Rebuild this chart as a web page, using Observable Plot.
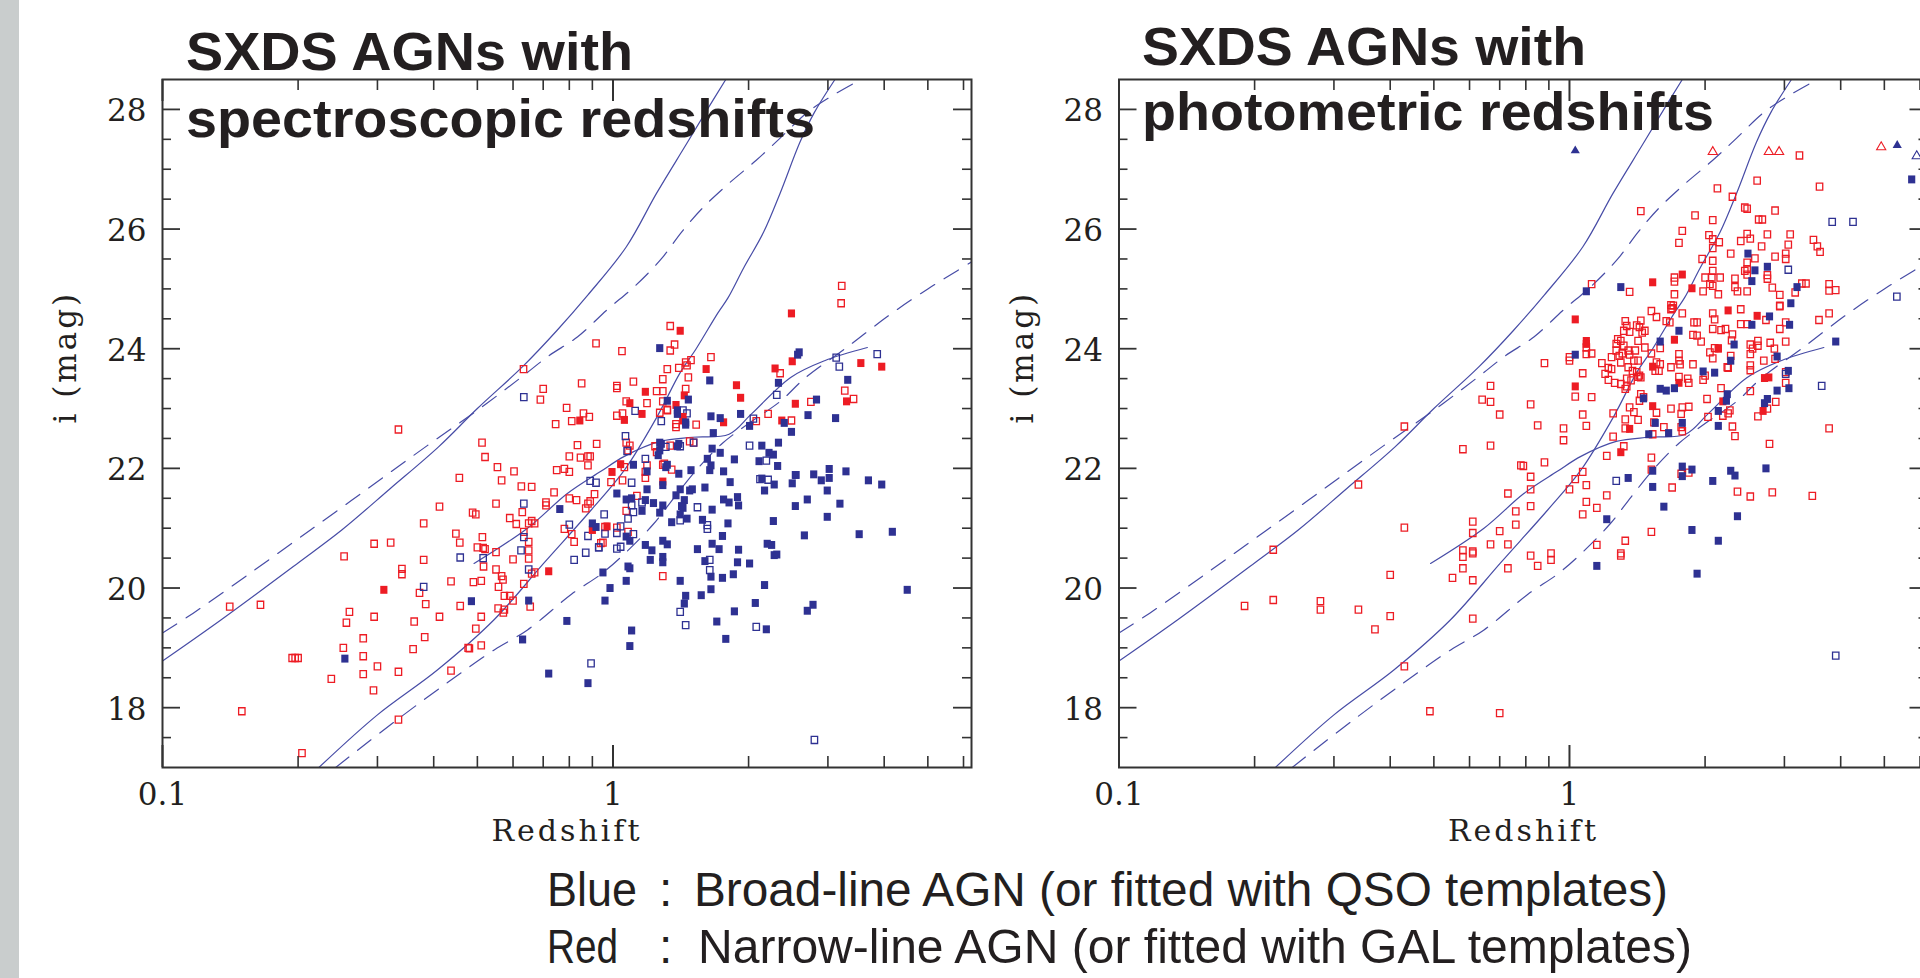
<!DOCTYPE html>
<html><head><meta charset="utf-8">
<script src="https://cdn.jsdelivr.net/npm/d3@7"></script>
<script src="https://cdn.jsdelivr.net/npm/@observablehq/plot@0.6"></script>
<style>
html,body{margin:0;padding:0;background:#fff;}
body{width:1920px;height:978px;overflow:hidden;position:relative;}
#strip{position:absolute;left:0;top:0;width:19px;height:978px;background:#c9cdcd;z-index:5}
.panel{position:absolute;top:0;}
#overlay{position:absolute;left:0;top:0;z-index:4;pointer-events:none}
</style></head><body>
<div id="strip"></div>
<div id="left" class="panel" style="left:0;width:981px"></div>
<div id="right" class="panel" style="left:990px;width:948px"></div>
<svg id="overlay" width="1920" height="978"></svg>
<script>
// ---------------- DATA ----------------
const xDomain = [0.1, 6.25];
const yDomain = [17, 28.5];
const xTickLabels = [0.1, 1];
const xTicksMajor = [0.1, 1];
const xTicksMinor = [0.2,0.3,0.4,0.5,0.6,0.7,0.8,0.9,2,3,4,5,6];
const yTicksMajor = [18,20,22,24,26,28];
const yTicksMinor = [17.5,18.5,19,19.5,20.5,21,21.5,22.5,23,23.5,24.5,25,25.5,26.5,27,27.5];
const xTitle = "Redshift";
const yTitle = "i (mag)";
const titlesLeft = ["SXDS AGNs with", "spectroscopic redshifts"];
const titlesRight = ["SXDS AGNs with", "photometric redshifts"];
const legendKeys = ["Blue", "Red"];
const legendTexts = ["Broad-line AGN (or fitted with QSO templates)", "Narrow-line AGN (or fitted with GAL templates)"];

// model tracks [z, i-mag]
const trackA = [[0.1,18.78],[0.135,19.47],[0.2,20.42],[0.25,20.97],[0.32,21.66],[0.41,22.36],[0.5,23.0],[0.63,23.7],[0.75,24.3],[0.88,24.9],[1.07,25.7],[1.25,26.6],[1.45,27.4],[1.62,28.0],[1.78,28.5]];
const trackB = [[0.1,19.25],[0.117,19.58],[0.213,20.97],[0.387,22.38],[0.5,22.97],[0.625,23.52],[0.72,23.88],[0.835,24.2],[0.97,24.65],[1.12,25.05],[1.28,25.5],[1.42,25.95],[1.58,26.35],[1.8,26.75],[2.08,27.15],[2.35,27.52],[2.7,27.95],[3.1,28.25],[3.55,28.5]];
const trackC = [[0.2224,17.0],[0.3,17.88],[0.4075,18.63],[0.5445,19.47],[0.703,20.42],[0.8935,21.3],[1.06,21.97],[1.25,22.85],[1.41,23.6],[1.53,24.0],[1.71,24.6],[1.8,24.85],[1.95,25.35],[2.16,25.95],[2.35,26.6],[2.6,27.45],[2.8,27.95],[3.11,28.5]];
const trackD = [[0.2423,17.0],[0.332,17.8],[0.4595,18.58],[0.546,18.97],[0.646,19.3],[0.81,19.9],[0.94,20.23],[1.07,20.6],[1.23,21.07],[1.37,21.52],[1.53,21.97],[1.75,22.42],[2.0,22.75],[2.36,23.13],[2.66,23.5],[3.3,24.02],[4.14,24.58],[5.0,25.0],[5.8,25.3],[6.25,25.45]];
const trackE = [[0.4916,20.41],[0.646,21.0],[0.792,21.58],[0.94,21.95],[1.06,22.2],[1.27,22.45],[1.5,22.52],[1.81,22.57],[2.03,22.91],[2.48,23.52],[2.95,23.8],[3.67,24.02]];

// spectroscopic sample [z, i-mag]
const specRedOpen = [[0.917,24.09],[0.633,23.66],[0.852,23.42],[0.70,23.33],[0.69,23.15],[0.789,23.01],[0.81,22.79],[0.86,22.92],[0.886,22.86],[0.746,22.74],[0.334,22.65],[0.512,22.43],[0.52,22.19],[0.834,22.39],[0.92,22.41],[0.80,22.2],[0.847,22.18],[0.88,22.2],[0.89,22.2],[0.88,22.05],[0.554,22.02],[0.603,21.95],[0.75,21.97],[0.78,21.99],[0.80,21.94],[0.456,21.84],[0.566,21.8],[0.626,21.7],[0.66,21.69],[0.74,21.6],[0.91,21.57],[0.80,21.5],[0.83,21.47],[0.55,21.41],[0.71,21.43],[0.71,21.38],[0.88,21.41],[0.89,21.45],[0.87,21.33],[0.412,21.36],[0.488,21.26],[0.496,21.23],[0.629,21.27],[0.59,21.17],[0.61,21.07],[0.65,21.08],[0.66,21.12],[0.67,21.08],[0.38,21.08],[0.634,20.94],[0.78,20.99],[0.81,20.9],[0.448,20.91],[0.457,20.76],[0.513,20.85],[0.50,20.68],[0.515,20.67],[0.52,20.65],[0.55,20.6],[0.60,20.48],[0.65,20.77],[0.65,20.63],[0.65,20.49],[0.67,20.26],[0.66,20.24],[0.82,20.77],[0.94,20.75],[0.516,20.36],[0.55,20.31],[0.566,20.2],[0.57,20.14],[0.253,20.53],[0.295,20.74],[0.321,20.76],[0.38,20.47],[0.34,20.32],[0.34,20.23],[0.372,19.92],[0.384,19.73],[0.437,20.11],[0.49,20.1],[0.51,20.12],[0.458,19.7],[0.557,20.02],[0.574,19.87],[0.59,19.87],[0.60,19.79],[0.556,19.66],[0.574,19.64],[0.571,19.59],[0.634,20.07],[0.655,19.69],[0.26,19.6],[0.256,19.42],[0.295,19.52],[0.362,19.44],[0.412,19.52],[0.51,19.52],[0.279,19.16],[0.252,19.0],[0.279,18.86],[0.382,19.18],[0.36,18.98],[0.496,19.32],[0.477,19.0],[0.48,18.99],[0.51,19.04],[0.194,18.83],[0.197,18.83],[0.20,18.83],[0.237,18.48],[0.279,18.56],[0.30,18.69],[0.334,18.6],[0.294,18.29],[0.437,18.62],[0.334,17.8],[0.150,17.94],[0.204,17.24],[0.141,19.69],[0.165,19.72],
[3.22,25.05],[3.21,24.76],[1.34,24.38],[1.047,23.96],[1.37,24.07],[1.34,23.97],[1.49,23.81],[1.45,23.77],[1.46,23.72],[1.65,23.86],[1.32,23.66],[1.40,23.68],[1.29,23.49],[1.47,23.52],[1.11,23.45],[1.02,23.38],[1.02,23.34],[1.25,23.29],[1.29,23.29],[1.45,23.33],[1.07,23.12],[1.19,23.09],[1.29,23.12],[1.32,22.98],[1.02,22.88],[1.05,22.92],[1.27,22.93],[1.32,22.97],[1.38,22.74],[1.38,22.69],[1.53,22.73],[2.08,22.79],[2.21,22.91],[2.49,22.8],[2.75,23.11],[2.35,23.59],[3.27,23.3],[3.42,23.16],[1.34,22.38],[1.25,22.27],[1.24,22.37],[1.48,22.45],[1.51,22.43],[1.29,22.06],[1.35,21.98],[1.30,22.08],[1.19,22.05],[1.18,21.94],[1.18,21.84],[1.09,22.38],[1.08,22.3],[1.07,22.43],[1.06,22.02],[1.05,21.8],[0.99,21.77],[1.13,21.54],[1.07,21.29],
[0.96,21.02],[1.02,21.01],[1.08,20.94],[0.95,20.76],[1.29,20.2]];
const specRedFilled = [[0.844,22.8],[0.90,20.97],[0.72,20.28],[0.31,19.97],[2.49,24.59],[1.41,24.3],[1.61,23.66],[1.18,23.28],[1.44,23.22],[1.88,23.39],[1.92,23.18],[1.09,23.09],[1.16,22.91],[1.06,22.81],[1.38,23.06],[1.43,22.86],[1.43,22.8],[1.76,22.77],[2.37,22.8],[2.54,23.08],[2.29,23.67],[2.5,23.79],[3.55,23.76],[3.95,23.7],[3.3,23.12],[1.04,22.07],[0.995,21.94],[1.29,21.78],[0.97,21.03]];
const specBlueOpen = [[0.634,23.19],[0.89,21.79],[0.917,21.76],[0.634,21.41],[0.634,20.85],[0.80,21.06],[0.88,20.87],[0.625,20.63],[0.65,20.31],[0.82,20.47],[0.87,20.59],[0.93,20.68],[0.458,20.51],[0.515,20.5],[0.38,20.02],[0.894,18.74],
[1.12,22.96],[1.43,22.97],[1.46,22.92],[1.28,22.79],[2.05,22.83],[2.31,23.23],[3.13,23.85],[3.18,23.7],[3.86,23.91],[2.01,22.38],[2.19,22.13],[1.31,22.36],[1.41,22.37],[1.51,22.43],[1.18,22.16],[1.066,22.54],[1.075,22.29],[1.10,21.76],[1.10,21.38],[1.16,21.43],[1.11,21.27],[1.54,21.35],[1.41,21.13],[1.62,21.05],[0.956,21.23],[1.08,21.16],[1.04,21.03],[2.12,21.82],[2.21,21.81],
[0.96,20.91],[1.02,20.92],[1.11,20.9],[1.04,20.69],[1.02,20.66],[0.93,20.68],[1.62,20.99],[1.64,20.47],[1.64,20.3],[1.41,19.6],[1.45,19.38],[2.08,19.35],[2.8,17.46]];
const specBlueFilled = [[0.762,21.32],[0.90,21.08],[0.917,21.02],[0.485,19.78],[0.65,19.79],[0.79,19.45],[0.63,19.14],[0.72,18.57],[0.88,18.41],[0.254,18.82],
[1.27,24.01],[1.64,23.47],[1.32,23.13],[1.47,23.15],[1.39,22.97],[1.39,22.91],[1.45,22.77],[1.45,22.73],[1.65,22.87],[1.73,22.84],[1.92,22.91],[2.01,22.71],[2.4,22.76],[2.49,22.61],[2.71,22.89],[3.12,22.84],[2.83,23.15],[2.33,23.43],[2.59,23.94],[2.57,23.9],[3.32,23.48],[1.67,22.59],[1.73,22.26],[1.86,22.15],[2.14,22.38],[2.33,22.43],[2.22,22.26],[2.27,22.23],[2.11,22.12],[2.32,22.04],[1.40,21.91],[1.49,21.97],[1.64,21.97],[1.65,22.05],[1.62,22.16],[1.66,22.33],[1.76,21.95],[1.32,22.06],[1.27,22.3],[1.28,22.41],[1.27,22.43],[1.26,22.22],[1.4,22.41],[1.39,22.37],[1.31,22.02],[1.19,21.95],[1.11,22.06],[1.29,21.72],[1.19,21.65],[1.02,21.58],[1.07,21.48],[1.10,21.5],[1.18,21.47],[1.23,21.42],[1.29,21.38],[1.16,21.29],[1.27,21.26],[1.38,21.55],[1.41,21.65],[1.44,21.47],[1.48,21.63],[1.50,21.65],[1.42,21.37],[1.43,21.34],[1.41,21.23],[1.46,21.16],[1.35,21.1],[1.60,21.68],[1.66,21.31],[1.58,21.14],[1.76,21.48],[1.81,21.43],[1.89,21.52],[1.90,21.38],[1.80,21.08],[1.82,21.77],[2.14,21.83],[2.17,21.63],[2.28,21.73],[2.5,21.75],[2.54,21.89],[2.55,21.89],[2.79,21.9],[2.9,21.8],[3.02,21.99],[3.02,21.84],[2.99,21.63],[3.29,21.95],[3.69,21.8],[3.95,21.73],[2.7,21.48],[2.54,21.37],[3.19,21.41],[2.99,21.19],[2.27,21.12],
[1.07,20.86],[1.09,20.79],[1.18,20.72],[1.22,20.63],[1.29,20.79],[1.32,20.73],[1.21,20.47],[1.29,20.52],[1.29,20.43],[1.08,20.36],[1.09,20.33],[0.95,20.26],[1.07,20.12],[0.985,20.0],[0.96,19.79],[1.1,19.29],[1.09,19.03],[1.75,20.87],[1.66,20.74],[1.72,20.65],[1.54,20.65],[1.9,20.64],[2.2,20.74],[2.25,20.72],[2.28,20.55],[2.31,20.56],[2.66,20.88],[3.52,20.9],[4.17,20.94],[1.6,20.45],[1.65,20.19],[1.75,20.17],[1.65,19.98],[1.89,20.43],[2.01,20.41],[1.85,20.23],[1.41,20.12],[1.45,19.87],[1.44,19.74],[1.57,19.88],[2.17,20.05],[2.07,19.75],[1.86,19.61],[1.7,19.44],[1.78,19.15],[2.19,19.31],[2.7,19.62],[2.78,19.72],[4.5,19.97]];

// photometric sample [z, i-mag]
const photRedOpen = [[0.668,23.38],[0.64,23.15],[0.668,23.11],[0.70,22.9],[0.43,22.7],[0.58,22.32],[0.668,22.38],[0.78,22.05],[0.34,21.73],[0.73,21.58],[0.76,21.28],[0.76,21.06],[0.43,21.01],[0.61,21.11],[0.61,20.92],[0.70,20.95],[0.22,20.64],[0.58,20.63],[0.58,20.52],[0.61,20.61],[0.61,20.58],[0.668,20.73],[0.73,20.73],[0.58,20.33],[0.73,20.33],[0.40,20.22],[0.55,20.17],[0.61,20.13],[0.19,19.7],[0.22,19.8],[0.28,19.78],[0.28,19.64],[0.34,19.64],[0.40,19.53],[0.37,19.31],[0.61,19.49],[0.43,18.69],[0.49,17.94],[0.70,17.91],
[3.24,27.23],[2.61,26.81],[3.59,26.71],[2.13,26.68],[2.3,26.54],[1.44,26.3],[1.90,26.23],[2.08,26.15],[2.45,26.36],[2.48,26.34],[2.86,26.31],[2.63,26.16],[2.68,26.16],[1.78,25.97],[1.75,25.77],[2.04,25.9],[2.08,25.83],[2.15,25.78],[2.08,25.68],[2.48,25.92],[2.4,25.8],[2.52,25.84],[2.75,25.91],[3.09,25.91],[2.67,25.71],[3.06,25.74],[3.02,25.59],[2.86,25.54],[3.02,25.5],[3.48,25.82],[3.55,25.71],[3.6,25.62],[2.28,25.59],[1.97,25.5],[2.08,25.47],[2.58,25.51],[2.48,25.44],[2.48,25.33],[2.45,25.3],[2.48,25.24],[2.75,25.23],[2.75,25.17],[2.08,25.3],[2.0,25.19],[2.07,25.19],[2.16,25.19],[2.05,25.08],[2.08,25.05],[1.98,24.96],[2.14,24.91],[1.71,25.19],[1.71,25.12],[1.36,24.95],[1.12,25.08],[2.33,25.17],[2.33,25.03],[2.36,24.96],[2.48,24.96],[2.82,25.02],[2.93,24.9],[2.93,24.72],[3.28,25.09],[3.35,25.09],[3.17,24.94],[3.77,25.08],[3.77,24.97],[3.9,24.98],[1.71,24.91],[1.70,24.72],[1.69,24.68],[1.52,24.63],[1.78,24.59],[1.68,24.73],[1.68,24.66],[2.4,24.66],[2.93,24.71],[2.73,24.48],[3.02,24.44],[2.93,24.33],[3.77,24.59],[3.58,24.48],[2.08,24.59],[2.1,24.49],[2.08,24.33],[2.17,24.31],[2.22,24.33],[1.89,24.44],[1.92,24.44],[1.88,24.23],[1.92,24.22],[1.96,24.12],[2.4,24.41],[2.48,24.41],[2.3,24.24],[2.29,24.14],[2.52,24.07],[2.55,24.0],[2.52,23.91],[2.62,24.13],[2.62,24.05],[2.79,24.1],[3.02,24.12],[2.85,24.0],[2.1,24.01],[2.08,23.84],[2.05,23.94],[2.28,23.88],[2.24,23.69],[2.7,23.8],[2.86,23.83],[3.02,23.61],[3.02,23.43],[2.87,23.11],[2.75,23.0],[2.62,22.87],[2.52,23.29],[2.17,23.34],[2.27,22.97],[2.25,22.92],[2.02,23.16],[2.03,22.86],[2.19,22.88],[2.3,22.7],[2.0,23.55],[1.98,23.48],[2.25,23.68],[2.52,23.72],[2.52,23.64],[1.75,23.53],[1.83,23.5],[1.84,23.43],[1.76,23.74],[1.68,23.69],[1.88,23.74],[1.75,23.8],[1.75,23.91],[1.55,23.63],[1.58,23.63],[1.59,23.74],[1.56,23.77],[1.43,23.55],[1.41,23.61],[1.38,23.63],[1.44,23.52],[1.42,23.53],[1.37,23.47],[1.34,23.5],[1.3,23.41],[1.34,23.37],[1.33,23.33],[1.26,23.43],[1.22,23.48],[1.2,23.58],[1.22,23.68],[1.18,23.76],[1.24,23.66],[1.03,23.2],[1.12,23.19],[1.07,23.59],[1.0,23.86],[1.0,23.8],[1.09,23.91],[1.12,23.92],[1.09,24.02],[0.88,23.76],[0.82,23.07],[0.85,22.72],[1.07,22.9],[0.97,22.67],[1.09,22.71],[1.33,24.46],[1.32,24.3],[1.36,24.28],[1.34,24.38],[1.28,24.16],[1.27,24.08],[1.3,24.13],[1.41,24.39],[1.43,24.36],[1.45,24.27],[1.47,24.3],[1.44,24.47],[1.56,24.53],[1.64,24.46],[1.67,24.44],[1.42,24.13],[1.47,24.02],[1.52,23.92],[1.59,24.01],[1.32,24.05],[1.35,23.97],[1.31,23.92],[1.29,23.88],[1.36,23.9],[1.4,23.97],[1.39,23.8],[1.42,23.8],[1.27,23.97],[1.24,23.86],[1.3,23.77],[1.35,23.69],[1.44,23.24],[1.46,23.19],[1.43,23.13],[1.56,22.93],[1.68,23.0],[1.78,23.02],[1.84,23.03],[1.77,22.91],[1.36,23.02],[1.39,22.94],[1.33,22.82],[1.42,22.81],[1.25,22.92],[1.54,22.77],[1.62,22.69],[1.77,22.69],[1.33,22.67],[3.77,22.67],
[0.97,22.47],[1.25,22.53],[1.32,22.37],[1.53,22.57],[1.78,22.62],[2.33,22.54],[2.78,22.41],[1.21,22.21],[1.52,22.18],[1.52,21.98],[1.77,21.91],[1.84,21.93],[1.69,21.68],[1.07,21.94],[1.03,21.82],[1.0,21.65],[1.09,21.72],[1.09,21.44],[1.21,21.55],[1.15,21.34],[1.07,21.23],[0.79,22.04],[0.88,22.1],[0.82,21.86],[0.82,21.65],[0.82,21.37],[0.82,20.54],[0.85,20.37],[0.91,20.58],[0.91,20.47],[1.33,20.79],[1.3,20.58],[1.3,20.54],[1.15,20.72],[1.52,20.94],[3.46,21.54],[2.52,21.53],[2.82,21.6],[2.36,21.61]];
const photRedFilled = [[1.78,25.24],[1.53,25.11],[1.87,25.01],[2.25,24.64],[2.61,24.55],[2.14,24.01],[2.14,24.0],[1.53,23.7],[1.71,24.15],[2.77,23.52],[2.71,23.51],[2.69,22.96],[2.19,23.12],[1.75,23.43],[1.03,23.37],[1.03,24.49],[1.09,24.13],[1.09,24.08],[1.53,23.04],[1.36,22.66],[1.3,22.27]];
const photBlueOpen = [[3.83,26.12],[4.26,26.12],[3.06,25.32],[5.33,24.87],[3.02,23.58],[3.63,23.38],[1.27,21.79],[3.9,18.87]];
const photBlueFilled = [[5.75,26.83],[2.49,25.59],[2.58,25.31],[2.75,25.37],[2.54,25.13],[1.09,24.96],[1.3,25.03],[3.2,25.03],[3.1,24.76],[2.78,24.54],[3.08,24.4],[2.54,24.4],[2.32,24.07],[2.28,23.8],[2.89,23.87],[3.06,23.63],[3.07,23.34],[2.89,23.3],[3.9,24.12],[2.75,23.16],[2.71,23.09],[2.24,23.24],[2.23,23.13],[2.14,22.96],[2.14,22.71],[2.1,23.6],[1.98,23.62],[1.71,23.34],[1.03,23.9],[1.75,24.3],[1.59,24.12],[1.59,23.33],[1.64,23.3],[1.55,22.76],[1.46,23.17],[1.78,22.76],[1.5,22.57],[1.66,22.59],[1.53,21.96],[1.78,22.03],[1.87,21.98],[1.78,21.87],[1.35,21.84],[1.53,21.69],[2.08,21.79],[2.28,21.96],[2.33,21.88],[2.73,22.0],[1.21,21.15],[1.62,21.36],[2.36,21.2],[1.87,20.97],[2.14,20.79],[1.15,20.37],[1.92,20.24]];
const photRedTriOpen = [[2.08,27.29],[2.77,27.29],[2.92,27.29],[4.92,27.37]];
const photBlueTriFilled = [[1.03,27.31],[5.34,27.4]];
const photBlueTriOpen = [[5.9,27.22]];

// ---------------- STYLE ----------------
const RED = "#ed1c24", BLUE = "#2e3192", LINE = "#474ca6", AXIS = "#333", TXT = "#231f20";
const FRAME_W = 809, FRAME_H = 688, M_TOP = 79, M_BOTTOM = 93, M_RIGHT = 10;
const SERIF = "DejaVu Serif, serif";

function rectSymbol(kw, kh) {
  return {draw(ctx, size) {
    const s = Math.sqrt(size), w = s * kw, h = s * kh;
    ctx.moveTo(-w/2, -h/2); ctx.lineTo(w/2, -h/2); ctx.lineTo(w/2, h/2); ctx.lineTo(-w/2, h/2); ctx.closePath();
  }};
}
const sqOpen = rectSymbol(0.84, 0.92);
const sqFilled = rectSymbol(0.94, 1.04);
const X = d => d[0], Y = d => d[1];

function panel(el, marginLeft, sets) {
  const marks = [
    Plot.line(trackA, {x: X, y: Y, stroke: LINE, strokeWidth: 1.2, curve: "catmull-rom", clip: true}),
    Plot.line(trackB, {x: X, y: Y, stroke: LINE, strokeWidth: 1.2, strokeDasharray: "17,11", curve: "catmull-rom", clip: true}),
    Plot.line(trackC, {x: X, y: Y, stroke: LINE, strokeWidth: 1.2, curve: "catmull-rom", clip: true}),
    Plot.line(trackD, {x: X, y: Y, stroke: LINE, strokeWidth: 1.2, strokeDasharray: "17,11", curve: "catmull-rom", clip: true}),
    Plot.line(trackE, {x: X, y: Y, stroke: LINE, strokeWidth: 1.2, curve: "catmull-rom", clip: true}),
    Plot.dot(sets.redOpen, {x: X, y: Y, symbol: sqOpen, r: 4.3, stroke: RED, fill: "none", strokeWidth: 1.3}),
    Plot.dot(sets.blueOpen, {x: X, y: Y, symbol: sqOpen, r: 4.3, stroke: BLUE, fill: "none", strokeWidth: 1.3}),
    Plot.dot(sets.redFilled, {x: X, y: Y, symbol: sqFilled, r: 4.3, fill: RED, stroke: "none"}),
    Plot.dot(sets.blueFilled, {x: X, y: Y, symbol: sqFilled, r: 4.3, fill: BLUE, stroke: "none"}),
  ];
  if (sets.redTriOpen) marks.push(Plot.dot(sets.redTriOpen, {x: X, y: Y, symbol: "triangle", r: 3.4, stroke: RED, fill: "none", strokeWidth: 1.1}));
  if (sets.blueTriFilled) marks.push(Plot.dot(sets.blueTriFilled, {x: X, y: Y, symbol: "triangle", r: 3.4, fill: BLUE, stroke: "none"}));
  if (sets.blueTriOpen) marks.push(Plot.dot(sets.blueTriOpen, {x: X, y: Y, symbol: "triangle", r: 3.4, stroke: BLUE, fill: "none", strokeWidth: 1.1}));
  marks.push(
    Plot.tickX(xTicksMajor, {x: d => d, insetTop: FRAME_H - 22, stroke: AXIS, strokeWidth: 2}),
    Plot.tickX(xTicksMinor, {x: d => d, insetTop: FRAME_H - 11, stroke: AXIS, strokeWidth: 1.6}),
    Plot.tickX(xTicksMajor, {x: d => d, insetBottom: FRAME_H - 22, stroke: AXIS, strokeWidth: 2}),
    Plot.tickX(xTicksMinor, {x: d => d, insetBottom: FRAME_H - 11, stroke: AXIS, strokeWidth: 1.6}),
    Plot.tickY(yTicksMajor, {y: d => d, insetRight: FRAME_W - 18, stroke: AXIS, strokeWidth: 1.8}),
    Plot.tickY(yTicksMinor, {y: d => d, insetRight: FRAME_W - 9, stroke: AXIS, strokeWidth: 1.6}),
    Plot.tickY(yTicksMajor, {y: d => d, insetLeft: FRAME_W - 18, stroke: AXIS, strokeWidth: 1.8}),
    Plot.tickY(yTicksMinor, {y: d => d, insetLeft: FRAME_W - 9, stroke: AXIS, strokeWidth: 1.6}),
    Plot.frame({stroke: AXIS, strokeWidth: 2}),
    Plot.text(xTickLabels, {x: d => d, text: d => String(d), frameAnchor: "bottom", dy: 37, fill: TXT, fontSize: 31, fontFamily: SERIF}),
    Plot.text(yTicksMajor, {y: d => d, text: d => String(d), frameAnchor: "left", dx: -16, dy: 2, textAnchor: "end", fill: TXT, fontSize: 31, fontFamily: SERIF}),
    Plot.text([xTitle], {text: d => d, frameAnchor: "bottom", dy: 73, fill: TXT, fontSize: 30, fontFamily: SERIF}),
    Plot.text([yTitle], {text: d => d, frameAnchor: "left", dx: -96, rotate: -90, fill: TXT, fontSize: 31, fontFamily: SERIF})
  );
  const p = Plot.plot({
    width: marginLeft + FRAME_W + M_RIGHT,
    height: M_TOP + FRAME_H + M_BOTTOM,
    marginLeft, marginRight: M_RIGHT, marginTop: M_TOP, marginBottom: M_BOTTOM,
    x: {type: "log", domain: xDomain, axis: null},
    y: {domain: yDomain, axis: null},
    style: {background: "transparent", maxWidth: "none", overflow: "visible", fontFamily: SERIF, fontSize: "31px", color: TXT},
    marks
  });
  d3.select(p).selectAll("text")
    .filter(function() { return this.textContent === xTitle || this.textContent === yTitle; })
    .style("letter-spacing", "3px");
  el.appendChild(p);
}

panel(document.getElementById("left"), 162, {redOpen: specRedOpen, redFilled: specRedFilled, blueOpen: specBlueOpen, blueFilled: specBlueFilled});
panel(document.getElementById("right"), 128.5, {redOpen: photRedOpen, redFilled: photRedFilled, blueOpen: photBlueOpen, blueFilled: photBlueFilled, redTriOpen: photRedTriOpen, blueTriFilled: photBlueTriFilled, blueTriOpen: photBlueTriOpen});

// ---------------- TITLES & LEGEND ----------------
const ov = d3.select("#overlay");
const SANS = "Liberation Sans, Arial, Helvetica, sans-serif";
const NARROW = "Liberation Sans Narrow, Arial Narrow, Liberation Sans, sans-serif";
function txt(s, x, y, size, weight, len, fam) {
  const t = ov.append("text").attr("x", x).attr("y", y).attr("fill", TXT)
    .attr("font-family", fam || SANS).attr("font-size", size).attr("font-weight", weight).text(s);
  if (len) t.attr("textLength", len).attr("lengthAdjust", "spacingAndGlyphs");
}
txt(titlesLeft[0], 186, 70, 53, "bold", 447);
txt(titlesLeft[1], 186, 137, 53, "bold", 629);
txt(titlesRight[0], 1142, 65, 53, "bold", 444);
txt(titlesRight[1], 1142, 130, 53, "bold", 572);
txt(legendKeys[0], 547, 906, 48, "normal", 90, NARROW);
txt(":", 659, 906, 48, "normal", null, NARROW);
txt(legendTexts[0], 694, 906, 48, "normal", 974, NARROW);
txt(legendKeys[1], 547, 963, 48, "normal", 71, NARROW);
txt(":", 659, 963, 48, "normal", null, NARROW);
txt(legendTexts[1], 698, 963, 48, "normal", 994, NARROW);
</script>
</body></html>
